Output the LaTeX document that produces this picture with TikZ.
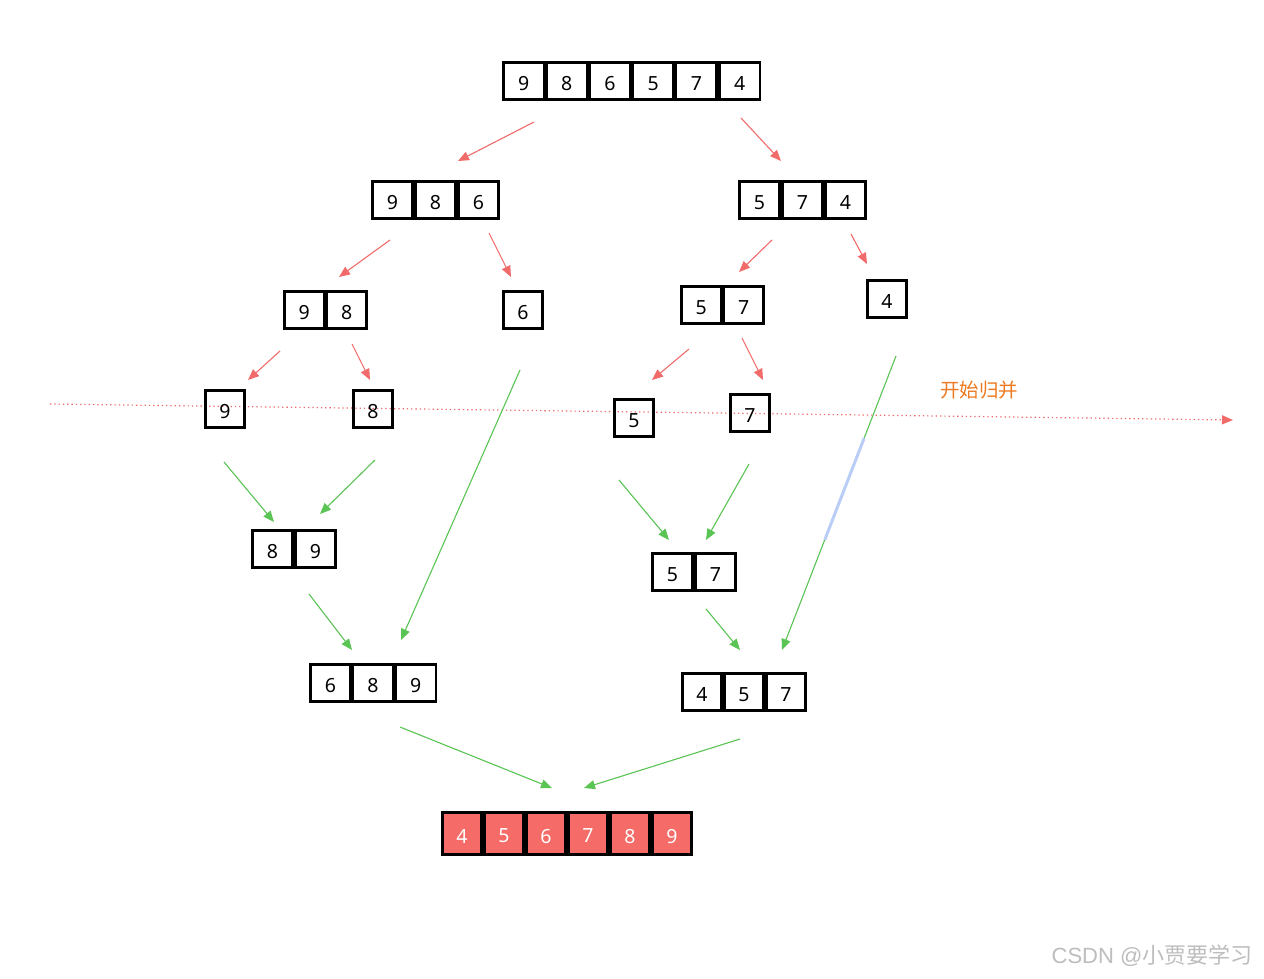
\documentclass[tikz,border=0pt]{standalone}
\usepackage{fontspec}
\setmainfont{Noto Sans}
\newfontfamily\cjk{Noto Sans CJK SC}
\newfontfamily\wmfont{Liberation Sans}
\usetikzlibrary{arrows.meta}
\definecolor{redarr}{HTML}{F26B6B}
\definecolor{greenarr}{HTML}{5AC454}
\definecolor{cellred}{HTML}{F46B67}
\definecolor{orangetxt}{HTML}{EE7A1F}
\definecolor{bluehl}{HTML}{B9CDF6}
\definecolor{wm}{HTML}{BDBDBD}
\tikzset{
  cell/.style={draw=black, line width=2.6pt, minimum height=37.5pt, inner sep=0pt, outer sep=0pt, font=\fontsize{19.5}{19.5}\selectfont, text depth=0pt, anchor=center},
  redcell/.style={cell, fill=cellred, text=white},
  rarrow/.style={draw=redarr, line width=1.1pt, -{Triangle[length=11pt,width=9pt]}},
  garrow/.style={draw=greenarr, line width=1.1pt, -{Triangle[length=11pt,width=9pt]}},
}
% #1 name, #2 left x, #3 top y, #4 pitch, #5 height, #6 style, #7 list
\newcommand{\cellrow}[7]{%
  \foreach \v [count=\i] in {#7} {
    \node[#6, minimum width={(#4-2.6)*1pt}, minimum height={(#5-2.6)*1pt}]
      (#1-\i) at ({#2+(\i-0.5)*#4},{#3+#5/2}) {\raisebox{-5pt}{\v}};
  }%
}
\begin{document}
\begin{tikzpicture}[x=1pt,y=-1pt]
\useasboundingbox (0,0) rectangle (1264,978);
\fill[white] (0,0) rectangle (1264,978);

% dotted merge line
\coordinate (dl0) at (50,404);
\coordinate (dl1) at (1233,420);
\draw[draw=redarr, line width=1.2pt, dash pattern=on 1.3pt off 3pt, -{Triangle[length=11pt,width=9pt]}] (dl0) -- (dl1);
\node[text=orangetxt, font=\cjk\fontsize{19.5}{19.5}\selectfont] (lbl) at (979,390) {开始归并};

% arrays
\cellrow{a}{502}{61}{43.2}{40}{cell}{9,8,6,5,7,4}
\cellrow{b}{371}{180}{43}{40}{cell}{9,8,6}
\cellrow{c}{738}{180}{43}{40}{cell}{5,7,4}
\cellrow{d}{283}{290}{42.5}{40}{cell}{9,8}
\cellrow{e}{502}{290}{42}{40}{cell}{6}
\cellrow{f}{680}{285}{42.5}{40}{cell}{5,7}
\cellrow{g}{866}{279}{42}{40}{cell}{4}
\cellrow{h}{204}{389}{42}{40}{cell}{9}
\cellrow{i}{352}{389}{42}{40}{cell}{8}
\cellrow{j}{613}{398}{42}{40}{cell}{5}
\cellrow{k}{729}{393}{42}{40}{cell}{7}
\cellrow{l}{251}{529}{43}{40}{cell}{8,9}
\cellrow{m}{651}{552}{43}{40}{cell}{5,7}
\cellrow{n}{309}{663}{42.7}{40}{cell}{6,8,9}
\cellrow{o}{681}{672}{42}{40}{cell}{4,5,7}
\cellrow{p}{441}{811}{42}{45}{redcell}{4,5,6,7,8,9}

% split arrows (red)
\coordinate (r1s) at (534,122); \coordinate (r1e) at (458,161);
\coordinate (r2s) at (741,118); \coordinate (r2e) at (781,161);
\coordinate (r3s) at (390,240); \coordinate (r3e) at (339,277);
\coordinate (r4s) at (489,233); \coordinate (r4e) at (511,277);
\coordinate (r5s) at (772,240); \coordinate (r5e) at (739,272);
\coordinate (r6s) at (851,234); \coordinate (r6e) at (867,264);
\coordinate (r7s) at (280,351); \coordinate (r7e) at (248,380);
\coordinate (r8s) at (352,344); \coordinate (r8e) at (370,380);
\coordinate (r9s) at (689,349); \coordinate (r9e) at (652,380);
\coordinate (r10s) at (742,338); \coordinate (r10e) at (763,380);
\foreach \k in {1,...,10} { \draw[rarrow] (r\k s) -- (r\k e); }

% merge arrows (green)
\coordinate (g1s) at (224,462); \coordinate (g1e) at (274,522);
\coordinate (g2s) at (375,460); \coordinate (g2e) at (320,514);
\coordinate (g3s) at (520,370); \coordinate (g3e) at (401,640);
\coordinate (g4s) at (619,480); \coordinate (g4e) at (669,540);
\coordinate (g5s) at (749,464); \coordinate (g5e) at (706,540);
\coordinate (g6s) at (896,356); \coordinate (g6e) at (782,650);
\coordinate (g7s) at (309,594); \coordinate (g7e) at (352,650);
\coordinate (g8s) at (706,609); \coordinate (g8e) at (740,650);
\coordinate (g9s) at (400,727); \coordinate (g9e) at (552,788);
\coordinate (g10s) at (740,739); \coordinate (g10e) at (584,788);
\coordinate (b1) at (864.2,438); \coordinate (b2) at (824.7,540);
\foreach \k in {1,...,10} { \draw[garrow] (g\k s) -- (g\k e); }
\draw[bluehl, line width=3pt] (b1) -- (b2);

% watermark
\node[text=wm, font=\fontsize{22}{22}\selectfont] (wmk) at (1152,956) {\wmfont CSDN @{\cjk 小贾要学习}};
\end{tikzpicture}
\end{document}
